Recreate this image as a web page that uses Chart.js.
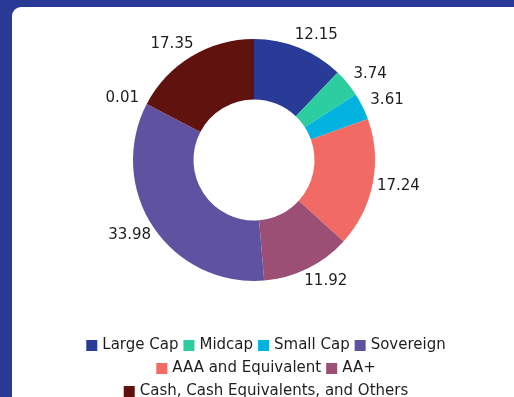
<!DOCTYPE html>
<html>
<head>
<meta charset="utf-8">
<script src="https://cdn.jsdelivr.net/npm/chart.js@4"></script>
<style>
  html, body { margin: 0; padding: 0; width: 514px; height: 397px; overflow: hidden; background: #283a96; }
  .panel { position: absolute; left: 12px; top: 7px; right: 0; bottom: 0; background: #fff; border-top-left-radius: 9px; }
  .wrap { position: absolute; left: 0; top: 0; width: 514px; height: 397px; }
</style>
</head>
<body>
<div class="panel"></div>
<div class="wrap"><canvas id="grafico-alocacao"></canvas></div>
<script>
// Alocação da carteira (%), na ordem das fatias, sentido horário a partir do topo
const categorias = ['Large Cap', 'Midcap', 'Small Cap', 'AAA and Equivalent', 'AA+', 'Sovereign', 'Others', 'Cash, Cash Equivalents, and Others'];
const valores = [12.15, 3.74, 3.61, 17.24, 11.92, 33.98, 0.01, 17.35];
const cores = ['#283b97', '#2ccd9f', '#03b3df', '#f26a64', '#9b4f75', '#5f53a1', '#b0b0b0', '#60130e'];
// ordem da legenda (a fatia "Others" não aparece nela)
const ordemLegenda = ['Large Cap', 'Midcap', 'Small Cap', 'Sovereign', 'AAA and Equivalent', 'AA+', 'Cash, Cash Equivalents, and Others'];

const familia = '"DejaVu Sans", Verdana, sans-serif';
const corTexto = '#1e1e1e';

// rótulos de valor fora das fatias
const rotulosFora = {
    id: 'rotulosFora',
    afterDatasetsDraw(chart) {
        const ctx = chart.ctx;
        const meta = chart.getDatasetMeta(0);
        ctx.save();
        ctx.font = '15px ' + familia;
        ctx.fillStyle = corTexto;
        ctx.textAlign = 'center';
        ctx.textBaseline = 'middle';
        meta.data.forEach((arc, i) => {
            const p = arc.getProps(['x', 'y', 'startAngle', 'endAngle', 'outerRadius'], true);
            const meio = (p.startAngle + p.endAngle) / 2;
            const r = p.outerRadius + 14;
            const dx = Math.cos(meio);
            const x = p.x + dx * r + (dx >= 0 ? 12 : -12);
            ctx.fillText(valores[i].toFixed(2), x, p.y + Math.sin(meio) * r);
        });
        ctx.restore();
    }
};

// legenda compacta (quadrado + texto, linhas centralizadas)
const legendaCompacta = {
    id: 'legendaCompacta',
    afterDraw(chart) {
        const ctx = chart.ctx;
        const caixa = 11, espaco = 5, gap = 5, alturaLinha = 23, larguraMax = 480;
        ctx.save();
        ctx.font = '15px ' + familia;
        ctx.textBaseline = 'middle';
        ctx.textAlign = 'left';
        const linhas = [[]];
        let largura = 0;
        ordemLegenda.forEach(nome => {
            const w = caixa + espaco + ctx.measureText(nome).width;
            const linha = linhas[linhas.length - 1];
            if (linha.length && largura + gap + w > larguraMax) {
                linhas.push([]);
                largura = 0;
            }
            largura += (linhas[linhas.length - 1].length ? gap : 0) + w;
            linhas[linhas.length - 1].push({ nome, w });
        });
        const centro = chart.width / 2 + 9;
        let y = chart.chartArea.bottom + 25.5;
        linhas.forEach(linha => {
            const total = linha.reduce((s, it) => s + it.w, 0) + gap * (linha.length - 1);
            let x = centro - total / 2;
            linha.forEach(it => {
                ctx.fillStyle = cores[categorias.indexOf(it.nome)];
                ctx.fillRect(x, y - caixa / 2, caixa, caixa);
                ctx.fillStyle = corTexto;
                ctx.fillText(it.nome, x + caixa + espaco, y);
                x += it.w + gap;
            });
            y += alturaLinha;
        });
        ctx.restore();
    }
};

const ctxAlocacao = document.getElementById('grafico-alocacao').getContext('2d');
const alocacaoChart = new Chart(ctxAlocacao, {
    type: 'doughnut',
    data: {
        labels: categorias,
        datasets: [{
            data: valores,
            backgroundColor: cores,
            borderWidth: 0,
            radius: 121
        }]
    },
    options: {
        responsive: true,
        maintainAspectRatio: false,
        animation: false,
        cutout: '50%',
        layout: {
            padding: { left: 0, right: 6, top: 0, bottom: 77 }
        },
        plugins: {
            tooltip: { enabled: false },
            legend: { display: false }
        }
    },
    plugins: [rotulosFora, legendaCompacta]
});
</script>
</body>
</html>
